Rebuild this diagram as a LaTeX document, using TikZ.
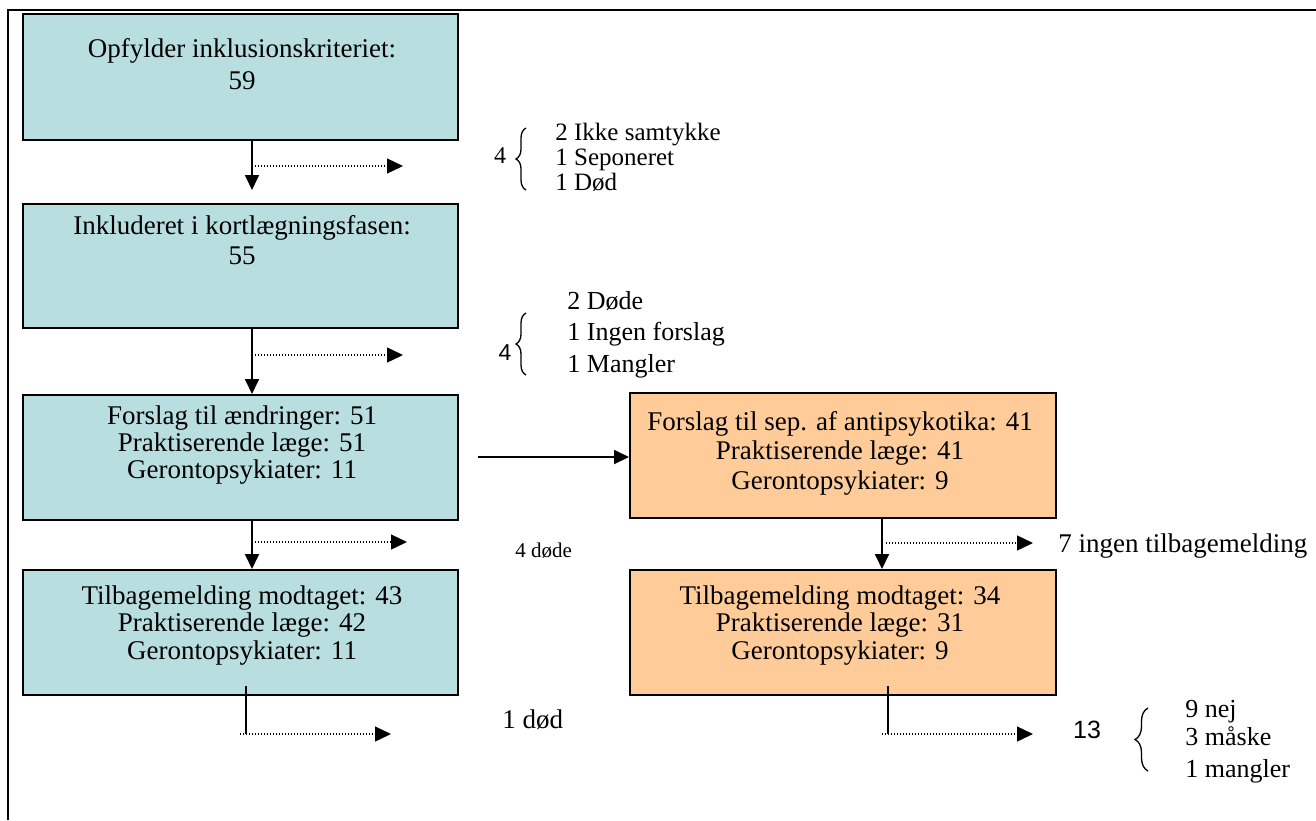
\documentclass[tikz,border=0pt]{standalone}
\usepackage{fontspec}
\setmainfont{Liberation Serif}
\newfontfamily\arialf{Liberation Sans}
\usetikzlibrary{arrows.meta,decorations.pathreplacing}
\definecolor{tealfill}{RGB}{184,222,224}
\definecolor{tanfill}{RGB}{255,204,153}
\begin{document}
\begin{tikzpicture}[x=0.5pt,y=-0.5pt,
  tbox/.style={draw=black, line width=1pt, fill=tealfill, inner sep=0pt, minimum width=217.5pt},
  obox/.style={draw=black, line width=1pt, fill=tanfill, inner sep=0pt, minimum width=213pt},
  btxt/.style={font=\fontsize{13.5}{14}\selectfont, anchor=base, inner sep=0pt},
  gtxt/.style={font=\fontsize{13}{14}\selectfont, anchor=base west, inner sep=0pt},
  arr/.style={line width=0.9pt, -{Triangle[length=7.5pt,width=7pt]}},
  dotarr/.style={line width=0.65pt, dash pattern=on 0.6pt off 0.9pt, -{Triangle[length=8pt,width=7.5pt]}},
  plain/.style={line width=0.9pt},
  brc/.style={decorate, decoration={brace, amplitude=5pt}, line width=0.65pt}]
\useasboundingbox (0,0) rectangle (1316,820);
% outer frame
\draw[line width=1.4pt] (8,820) -- (8,10) -- (1316,10);

% boxes
\node[tbox, minimum height=63pt] (b1) at (240.5,77) {};
\node[tbox, minimum height=62pt] (b2) at (240.5,266) {};
\node[tbox, minimum height=62.5pt] (b3) at (240.5,457.5) {};
\node[obox, minimum height=62.5pt] (b4) at (843,455.5) {};
\node[tbox, minimum height=62.5pt] (b5) at (240.5,632.5) {};
\node[obox, minimum height=62.5pt] (b6) at (843,632.5) {};

% box texts
\node[btxt] (t1a) at (242,57) {Opfylder inklusionskriteriet:};
\node[btxt] (t1b) at (242,89) {59};
\node[btxt] (t2a) at (242,234) {Inkluderet i kortlægningsfasen:};
\node[btxt] (t2b) at (242,264) {55};
\node[btxt] (t3a) at (242,424) {Forslag til ændringer: 51};
\node[btxt] (t3b) at (242,451) {Praktiserende læge: 51};
\node[btxt] (t3c) at (242,478) {Gerontopsykiater: 11};
\node[btxt] (t4a) at (840,430) {Forslag til sep. af antipsykotika: 41};
\node[btxt] (t4b) at (840,459.5) {Praktiserende læge: 41};
\node[btxt] (t4c) at (840,489) {Gerontopsykiater: 9};
\node[btxt] (t5a) at (242,604) {Tilbagemelding modtaget: 43};
\node[btxt] (t5b) at (242,631) {Praktiserende læge: 42};
\node[btxt] (t5c) at (242,659) {Gerontopsykiater: 11};
\node[btxt] (t6a) at (840,604) {Tilbagemelding modtaget: 34};
\node[btxt] (t6b) at (840,631) {Praktiserende læge: 31};
\node[btxt] (t6c) at (840,659) {Gerontopsykiater: 9};

% connector coordinates
\coordinate (a1) at (252,190);
\coordinate (d1s) at (252,166);
\coordinate (d1e) at (403,166);
\coordinate (a2) at (252,300);
\coordinate (d2s) at (252,355);
\coordinate (d2e) at (403,355);
\coordinate (h0) at (478,457);
\coordinate (a3) at (252,540);
\coordinate (d3s) at (255,542);
\coordinate (d3e) at (407,542);
\coordinate (a4) at (882,540);
\coordinate (d4s) at (886,543);
\coordinate (d4e) at (1033,543);
\coordinate (l5s) at (246,686);
\coordinate (l5e) at (246,734);
\coordinate (d5s) at (240,734);
\coordinate (d5e) at (391,734);
\coordinate (l6s) at (888,686);
\coordinate (l6e) at (888,734);
\coordinate (d6s) at (882,734);
\coordinate (d6e) at (1033,734);

% connectors
\draw[arr] (b1.south -| a1) -- (a1);
\draw[dotarr] (d1s) -- (d1e);
\draw[arr] (b2.south -| a2) -- (b3.north -| a2);
\draw[dotarr] (d2s) -- (d2e);
\draw[arr] (h0) -- (h0 -| b4.west);
\draw[arr] (b3.south -| a3) -- (b5.north -| a3);
\draw[dotarr] (d3s) -- (d3e);
\draw[arr] (b4.south -| a4) -- (b6.north -| a4);
\draw[dotarr] (d4s) -- (d4e);
\draw[plain] (l5s) -- (l5e);
\draw[dotarr] (d5s) -- (d5e);
\draw[plain] (l6s) -- (l6e);
\draw[dotarr] (d6s) -- (d6e);

% group 1
\node[anchor=base, inner sep=0pt, font=\fontsize{12}{12}\selectfont] (g1n) at (500,163) {4};
\coordinate (g1b0) at (526,190);
\coordinate (g1b1) at (526,128);
\draw[brc] (g1b0) -- (g1b1);
\node[gtxt, font=\fontsize{12.5}{13}\selectfont] (g1a) at (555,140) {2 Ikke samtykke};
\node[gtxt, font=\fontsize{12.5}{13}\selectfont] (g1b) at (555,165) {1 Seponeret};
\node[gtxt, font=\fontsize{12.5}{13}\selectfont] (g1c) at (555,190) {1 Død};

% group 2
\node[anchor=base, inner sep=0pt, font=\arialf\fontsize{11.5}{12}\selectfont] (g2n) at (505,360) {4};
\coordinate (g2b0) at (526,375);
\coordinate (g2b1) at (526,313);
\draw[brc] (g2b0) -- (g2b1);
\node[gtxt] (g2a) at (567,309) {2 Døde};
\node[gtxt] (g2b) at (567,340) {1 Ingen forslag};
\node[gtxt] (g2c) at (567,372) {1 Mangler};

% single labels
\node[anchor=base west, inner sep=0pt, font=\fontsize{10.5}{11}\selectfont] (l3) at (515,557) {4 døde};
\node[anchor=base west, inner sep=0pt, font=\fontsize{13.5}{14}\selectfont] (l4) at (1058,552) {7 ingen tilbagemelding};
\node[anchor=base west, inner sep=0pt, font=\fontsize{13.5}{14}\selectfont] (l5) at (502,728) {1 død};

% group 3
\node[anchor=base, inner sep=0pt, font=\arialf\fontsize{12.5}{13}\selectfont] (g3n) at (1087,738) {13};
\coordinate (g3b0) at (1148,771);
\coordinate (g3b1) at (1148,708);
\draw[brc, decoration={brace, amplitude=6.5pt}] (g3b0) -- (g3b1);
\node[gtxt] (g3a) at (1185,717) {9 nej};
\node[gtxt] (g3b) at (1185,745) {3 måske};
\node[gtxt] (g3c) at (1185,777) {1 mangler};
\end{tikzpicture}
\end{document}
